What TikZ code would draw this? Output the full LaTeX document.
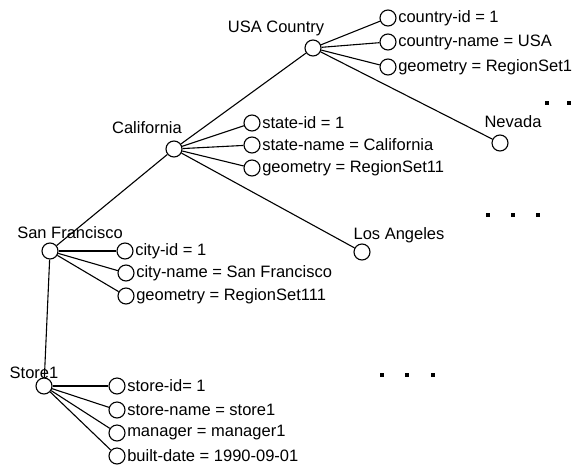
\documentclass[tikz,border=0pt]{standalone}
\usepackage{fontspec}
\setmainfont{Liberation Sans}
\begin{document}
\begin{tikzpicture}[x=1pt,y=-1pt,
  vtx/.style={circle,draw,line width=1.1pt,minimum size=16pt,inner sep=0pt,fill=white},
  attr/.style={anchor=west,inner sep=1.5pt,font=\fontsize{16.5}{18}\selectfont},
  lbl/.style={inner sep=0pt,font=\fontsize{16.5}{18}\selectfont},
  edge/.style={line width=1.1pt},
  dot/.style={fill=black,inner sep=0pt,minimum size=3.6pt,rectangle}]
\useasboundingbox (0,0) rectangle (588,466);
% main nodes
\node[vtx] (usa) at (313,48) {};
\node[vtx] (cal) at (174,149) {};
\node[vtx] (nev) at (500,143) {};
\node[vtx] (la) at (362,252) {};
\node[vtx] (sf) at (50,251) {};
\node[vtx] (st) at (44,386) {};
\node[lbl] (usal) at (276,28) {USA Country};
\node[lbl] (call) at (147,128) {California};
\node[lbl] (nevl) at (513,122) {Nevada};
\node[lbl] (lal) at (399,235) {Los Angeles};
\node[lbl] (sfl) at (70,233) {San Francisco};
\node[lbl] (stl) at (34,373) {Store1};
% attribute vertices
\node[vtx] (u1) at (388,18) {}; \node[attr] at (u1.east) {country-id = 1};
\node[vtx] (u2) at (388,42) {}; \node[attr] at (u2.east) {country-name = USA};
\node[vtx] (u3) at (388,67) {}; \node[attr] at (u3.east) {geometry = RegionSet1};
\node[vtx] (c1) at (252,123) {}; \node[attr] at (c1.east) {state-id = 1};
\node[vtx] (c2) at (252,145) {}; \node[attr] at (c2.east) {state-name = California};
\node[vtx] (c3) at (252,168) {}; \node[attr] at (c3.east) {geometry = RegionSet11};
\node[vtx] (s1) at (125,251) {}; \node[attr] at (s1.east) {city-id = 1};
\node[vtx] (s2) at (126,273) {}; \node[attr] at (s2.east) {city-name = San Francisco};
\node[vtx] (s3) at (126,296) {}; \node[attr] at (s3.east) {geometry = RegionSet111};
\node[vtx] (t1) at (117,386) {}; \node[attr] at (t1.east) {store-id= 1};
\node[vtx] (t2) at (117,410) {}; \node[attr] at (t2.east) {store-name = store1};
\node[vtx] (t3) at (117,433) {}; \node[attr] at (t3.east) {manager = manager1};
\node[vtx] (t4) at (117,456) {}; \node[attr] at (t4.east) {built-date = 1990-09-01};
% edges
\draw[edge] (usa) -- (u1); \draw[edge] (usa) -- (u2); \draw[edge] (usa) -- (u3);
\draw[edge] (usa) -- (cal); \draw[edge] (usa) -- (nev);
\draw[edge] (cal) -- (c1); \draw[edge] (cal) -- (c2); \draw[edge] (cal) -- (c3);
\draw[edge] (cal) -- (sf); \draw[edge] (cal) -- (la);
\draw[edge] (sf) -- (s1); \draw[edge] (sf) -- (s2); \draw[edge] (sf) -- (s3);
\draw[edge] (sf) -- (st);
\draw[edge] (st) -- (t1); \draw[edge] (st) -- (t2); \draw[edge] (st) -- (t3); \draw[edge] (st) -- (t4);
% ellipsis dots
\node[dot] (d1) at (547,103) {}; \node[dot] (d2) at (569,103) {};
\node[dot] (d3) at (488,215) {}; \node[dot] (d4) at (513,215) {}; \node[dot] (d5) at (538,215) {};
\node[dot] (d6) at (382,375) {}; \node[dot] (d7) at (407,375) {}; \node[dot] (d8) at (433,375) {};
\end{tikzpicture}
\end{document}
